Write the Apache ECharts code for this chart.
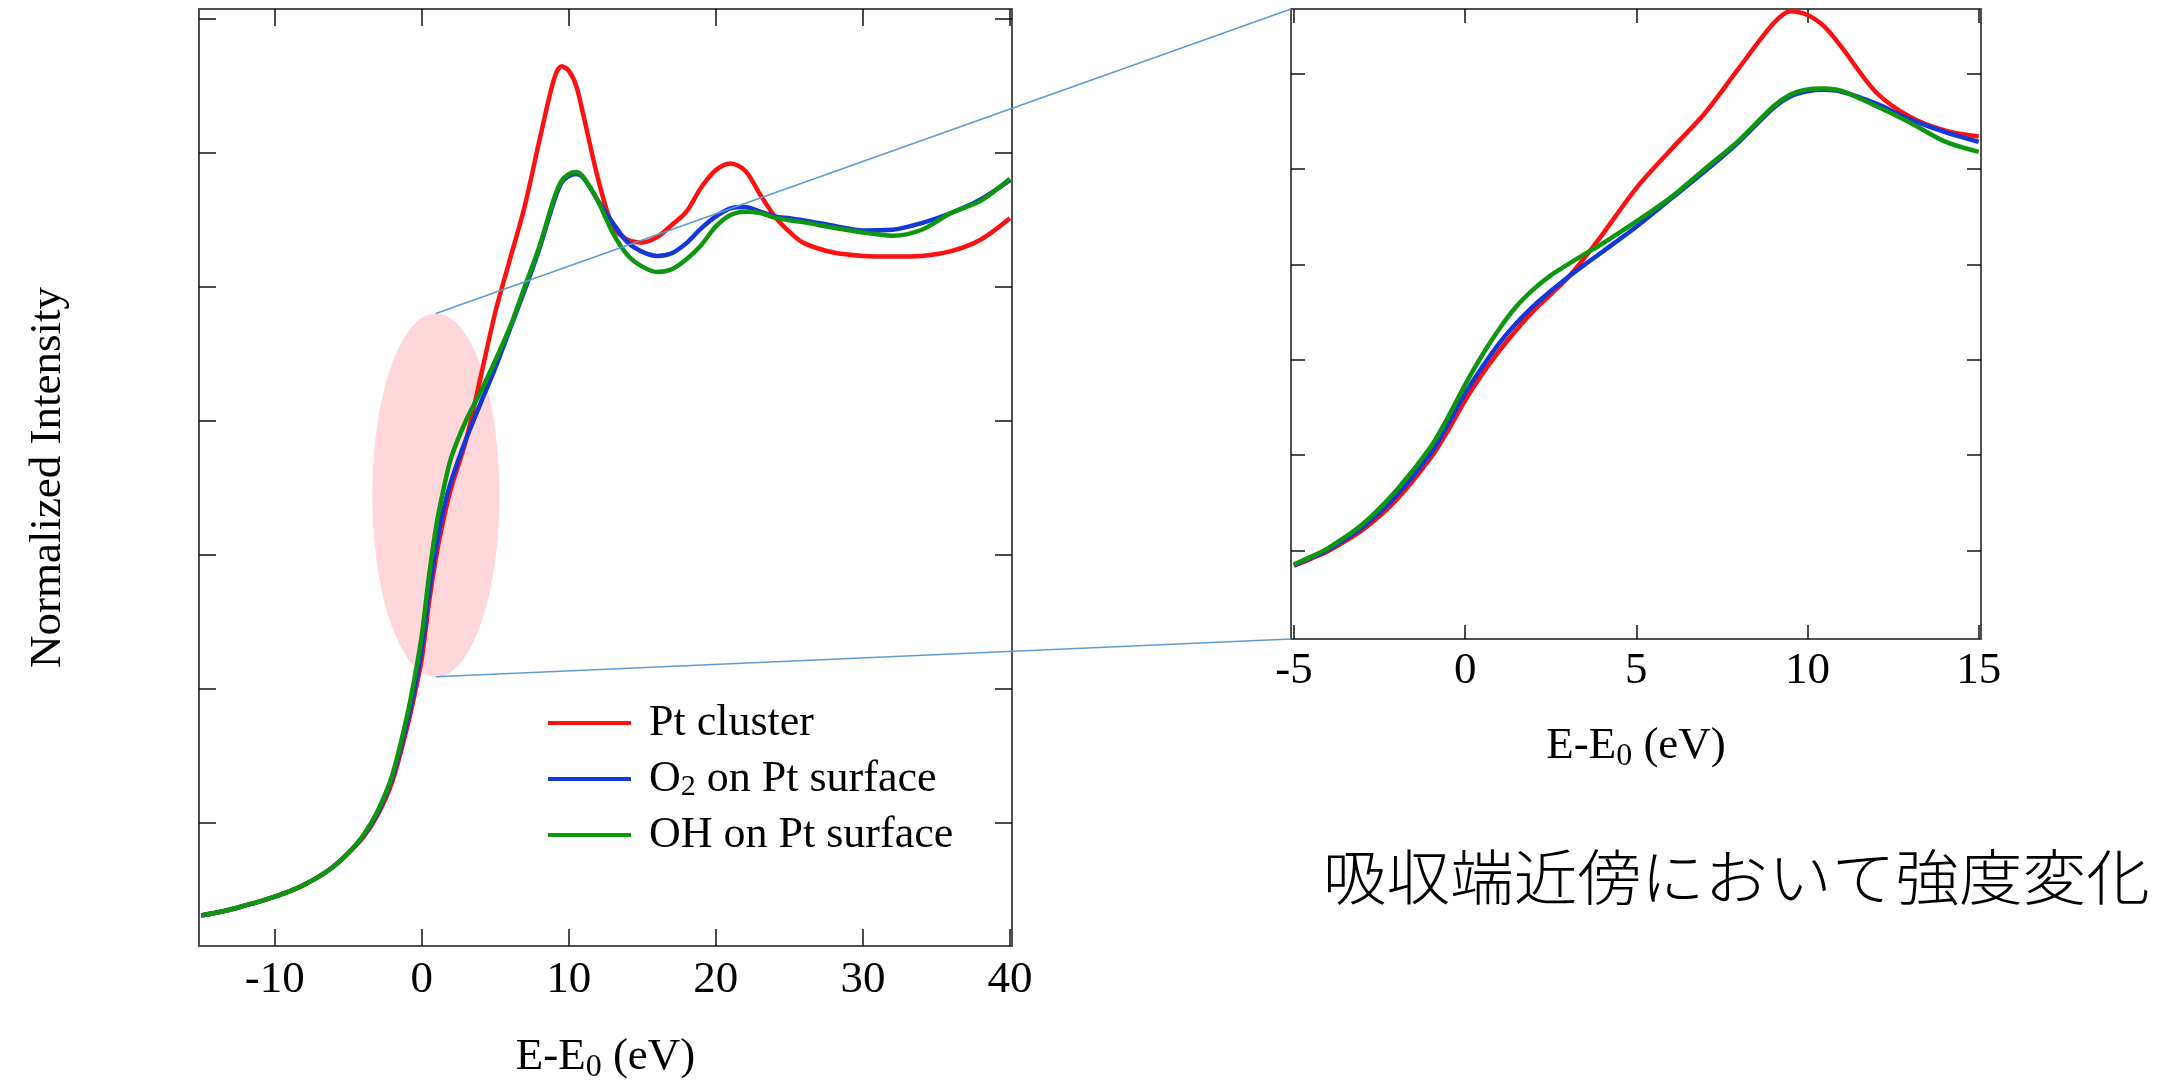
<!DOCTYPE html>
<html>
<head>
<meta charset="utf-8">
<script src="https://cdn.jsdelivr.net/npm/echarts@6/dist/echarts.min.js"></script>
<style>
  html, body { margin: 0; padding: 0; background: #ffffff; }
  #chart { width: 2161px; height: 1081px; }
</style>
</head>
<body>
<div id="chart"></div>
<script>
// ---- Full range spectra (E - E0 in eV, normalized intensity) ----
const fullEnergy    = [-15, -14, -13, -12, -11, -10, -9, -8, -7, -6, -5, -4, -3, -2, -1, -0.5, 0, 0.5, 1, 1.5, 2, 3, 4, 5, 6, 7, 8, 9, 9.5, 10, 10.5, 11, 12, 13, 14, 15, 16, 17, 18, 19, 20, 21, 22, 23, 24, 25, 26, 28, 30, 32, 34, 36, 38, 40];
const fullPtCluster = [0.062, 0.066, 0.071, 0.077, 0.083, 0.090, 0.098, 0.108, 0.120, 0.135, 0.155, 0.178, 0.212, 0.262, 0.342, 0.390, 0.445, 0.530, 0.600, 0.655, 0.700, 0.770, 0.865, 0.962, 1.041, 1.120, 1.218, 1.310, 1.329, 1.322, 1.300, 1.255, 1.160, 1.090, 1.070, 1.066, 1.074, 1.092, 1.112, 1.148, 1.174, 1.184, 1.173, 1.138, 1.105, 1.082, 1.065, 1.051, 1.046, 1.045, 1.046, 1.053, 1.070, 1.102];
const fullO2Surface = [0.062, 0.066, 0.071, 0.077, 0.083, 0.090, 0.098, 0.108, 0.120, 0.135, 0.155, 0.180, 0.215, 0.268, 0.350, 0.400, 0.460, 0.545, 0.615, 0.670, 0.710, 0.772, 0.826, 0.879, 0.937, 0.995, 1.057, 1.128, 1.155, 1.165, 1.168, 1.162, 1.128, 1.095, 1.066, 1.052, 1.046, 1.050, 1.065, 1.087, 1.105, 1.117, 1.119, 1.112, 1.105, 1.102, 1.099, 1.091, 1.084, 1.085, 1.095, 1.110, 1.130, 1.159];
const fullOHSurface = [0.062, 0.066, 0.071, 0.077, 0.083, 0.090, 0.098, 0.108, 0.120, 0.135, 0.155, 0.181, 0.218, 0.272, 0.360, 0.415, 0.480, 0.570, 0.645, 0.700, 0.745, 0.800, 0.843, 0.890, 0.940, 1.000, 1.060, 1.132, 1.158, 1.168, 1.171, 1.163, 1.127, 1.080, 1.047, 1.030, 1.022, 1.026, 1.041, 1.062, 1.090, 1.107, 1.112, 1.110, 1.103, 1.099, 1.096, 1.088, 1.081, 1.076, 1.085, 1.110, 1.128, 1.161];

// ---- Near-edge detail (E - E0 in eV, normalized intensity) ----
const edgeEnergy    = [-5, -4.5, -4, -3, -2, -1, -0.5, 0, 0.5, 1, 1.5, 2, 2.5, 3, 3.5, 4, 5, 6, 7, 8, 9, 9.5, 10, 10.5, 11, 12, 13, 14, 15];
const edgePtCluster = [0.168, 0.183, 0.199, 0.243, 0.307, 0.395, 0.452, 0.515, 0.570, 0.619, 0.663, 0.703, 0.737, 0.772, 0.815, 0.862, 0.960, 1.040, 1.117, 1.212, 1.305, 1.331, 1.323, 1.298, 1.255, 1.161, 1.109, 1.081, 1.068];
const edgeO2Surface = [0.169, 0.185, 0.202, 0.249, 0.316, 0.405, 0.465, 0.530, 0.585, 0.635, 0.677, 0.713, 0.744, 0.773, 0.800, 0.826, 0.879, 0.937, 0.995, 1.057, 1.128, 1.152, 1.163, 1.166, 1.162, 1.137, 1.104, 1.078, 1.057];
const edgeOHSurface = [0.171, 0.187, 0.205, 0.255, 0.327, 0.418, 0.480, 0.548, 0.610, 0.665, 0.712, 0.748, 0.777, 0.800, 0.822, 0.843, 0.890, 0.940, 1.000, 1.060, 1.131, 1.156, 1.167, 1.169, 1.164, 1.132, 1.097, 1.058, 1.036];

// ---- Axis ticks ----
const fullTicksX = [-10, 0, 10, 20, 30, 40];
const edgeTicksX = [-5, 0, 5, 10, 15];
const fullTicksY = [0.2, 0.4, 0.6, 0.8, 1.0, 1.2, 1.4];
const edgeTicksY = [0.2, 0.4, 0.6, 0.8, 1.0, 1.2];

const seriesNames  = ['Pt cluster', 'O2 on Pt surface', 'OH on Pt surface'];
const seriesColors = ['#ff1010', '#1438d8', '#0e960e'];

// Highlighted near-edge region on the full spectrum (data units)
const highlightRegion = { cx: 0.96, cy: 0.689, rx: 4.32, ry: 0.271 };

const caption = '吸収端近傍において強度変化';

const SERIF = '"Liberation Serif", "Times New Roman", serif';
const FONT_SIZE = 45;

function pairs(xs, ys) { return xs.map((x, i) => [x, ys[i]]); }

function frameAxes(gridIndex, range, ticks, tickLen, labelMargin, nameGap, withName) {
  const lineStyle = { color: '#505050', width: 2 };
  const tickStyle = { color: '#111111', width: 1.5 };
  const xBottom = {
    type: 'value', gridIndex, position: 'bottom',
    min: range.x[0], max: range.x[1],
    axisLine: { show: true, onZero: false, lineStyle },
    axisTick: { show: true, inside: true, length: tickLen, lineStyle: tickStyle, customValues: ticks.x },
    axisLabel: { show: true, customValues: ticks.x, margin: labelMargin, color: '#000', fontFamily: SERIF, fontSize: FONT_SIZE, lineHeight: FONT_SIZE },
    splitLine: { show: false },
    name: '{t|E-E}{s|0}{t| (eV)}',
    nameLocation: 'middle', nameGap: nameGap,
    nameTextStyle: {
      color: '#000', fontFamily: SERIF, fontSize: FONT_SIZE,
      rich: {
        t: { fontFamily: SERIF, fontSize: FONT_SIZE, color: '#000', lineHeight: 54, verticalAlign: 'middle' },
        s: { fontFamily: SERIF, fontSize: 32, color: '#000', lineHeight: 28, verticalAlign: 'bottom' }
      }
    }
  };
  const xTop = {
    type: 'value', gridIndex, position: 'top',
    min: range.x[0], max: range.x[1],
    axisLine: { show: true, onZero: false, lineStyle },
    axisTick: { show: true, inside: true, length: tickLen, lineStyle: tickStyle, customValues: ticks.x },
    axisLabel: { show: false },
    splitLine: { show: false }
  };
  const yLeft = {
    type: 'value', gridIndex, position: 'left',
    min: range.y[0], max: range.y[1],
    axisLine: { show: true, onZero: false, lineStyle },
    axisTick: { show: true, inside: true, length: tickLen, lineStyle: tickStyle, customValues: ticks.y },
    axisLabel: { show: false },
    splitLine: { show: false }
  };
  if (withName) {
    yLeft.name = 'Normalized Intensity';
    yLeft.nameLocation = 'middle';
    yLeft.nameGap = 128;
    yLeft.nameTextStyle = { color: '#000', fontFamily: SERIF, fontSize: FONT_SIZE };
  }
  const yRight = {
    type: 'value', gridIndex, position: 'right',
    min: range.y[0], max: range.y[1],
    axisLine: { show: true, onZero: false, lineStyle },
    axisTick: { show: true, inside: true, length: tickLen, lineStyle: tickStyle, customValues: ticks.y },
    axisLabel: { show: false },
    splitLine: { show: false }
  };
  return { x: [xBottom, xTop], y: [yLeft, yRight] };
}

const fullAxes = frameAxes(0, { x: [-15.15, 40.14], y: [0.0165, 1.4143] }, { x: fullTicksX, y: fullTicksY }, 17, 12, 84, true);
const edgeAxes = frameAxes(1, { x: [-5.088, 15.067], y: [0.0144, 1.3355] }, { x: edgeTicksX, y: edgeTicksY }, 14, 10, 80, false);

const fullData = [fullPtCluster, fullO2Surface, fullOHSurface];
const edgeData = [edgePtCluster, edgeO2Surface, edgeOHSurface];

const series = [];
seriesNames.forEach((name, i) => {
  series.push({
    name, type: 'line', xAxisIndex: 0, yAxisIndex: 0,
    data: pairs(fullEnergy, fullData[i]),
    smooth: 0.3, symbol: 'none', showSymbol: false, clip: true,
    lineStyle: { color: seriesColors[i], width: 4.5 }, itemStyle: { color: seriesColors[i] },
    z: 3 + i
  });
});
seriesNames.forEach((name, i) => {
  series.push({
    name, type: 'line', xAxisIndex: 2, yAxisIndex: 2,
    data: pairs(edgeEnergy, edgeData[i]),
    smooth: 0.3, symbol: 'none', showSymbol: false, clip: true,
    lineStyle: { color: seriesColors[i], width: 4.5 }, itemStyle: { color: seriesColors[i] },
    z: 3 + i
  });
});

const chart = echarts.init(document.getElementById('chart'), null, { renderer: 'canvas' });

chart.setOption({
  animation: false,
  backgroundColor: '#ffffff',
  grid: [
    { left: 199, top: 9, width: 813, height: 937, containLabel: false, outerBoundsMode: 'none' },
    { left: 1291, top: 9, width: 690, height: 630, containLabel: false, outerBoundsMode: 'none' }
  ],
  xAxis: [...fullAxes.x, ...edgeAxes.x],
  yAxis: [...fullAxes.y, ...edgeAxes.y],
  legend: {
    orient: 'vertical',
    left: 543, top: 695,
    itemWidth: 83, itemHeight: 4, itemGap: 10,
    icon: 'rect',
    data: seriesNames.map((n, i) => ({ name: n, itemStyle: { color: seriesColors[i] } })),
    formatter: (name) => name.startsWith('O2')
      ? '{t|O}{sub|2}{t|' + name.slice(2) + '}'
      : '{t|' + name + '}',
    textStyle: {
      color: '#000', fontFamily: SERIF, fontSize: 44, lineHeight: 46,
      padding: [0, 0, 0, 13],
      rich: {
        t: { fontFamily: SERIF, fontSize: 44, color: '#000', lineHeight: 46, verticalAlign: 'middle' },
        sub: { fontFamily: SERIF, fontSize: 30, color: '#000', lineHeight: 18, verticalAlign: 'bottom' }
      }
    },
    selectedMode: false
  },
  series
});

// Highlight ellipse on the full spectrum and guide lines to the detail frame
function drawOverlay() {
  const r = highlightRegion;
  const c = chart.convertToPixel({ xAxisIndex: 0, yAxisIndex: 0 }, [r.cx, r.cy]);
  const e = chart.convertToPixel({ xAxisIndex: 0, yAxisIndex: 0 }, [r.cx + r.rx, r.cy + r.ry]);
  const rxPx = Math.abs(e[0] - c[0]);
  const ryPx = Math.abs(e[1] - c[1]);
  const edgeTopLeft = chart.convertToPixel({ xAxisIndex: 2, yAxisIndex: 2 }, [-5.088, 1.3355]);
  const edgeBottomLeft = chart.convertToPixel({ xAxisIndex: 2, yAxisIndex: 2 }, [-5.088, 0.0144]);
  chart.setOption({
    graphic: [
      { type: 'ellipse', z: 1, shape: { cx: c[0], cy: c[1], rx: rxPx, ry: ryPx }, style: { fill: '#ffd6d9' }, silent: true },
      { type: 'line', z: 10, shape: { x1: c[0], y1: c[1] - ryPx, x2: edgeTopLeft[0], y2: edgeTopLeft[1] }, style: { stroke: '#5b9bd5', lineWidth: 1.5 }, silent: true },
      { type: 'line', z: 10, shape: { x1: c[0], y1: c[1] + ryPx, x2: edgeBottomLeft[0], y2: edgeBottomLeft[1] }, style: { stroke: '#5b9bd5', lineWidth: 1.5 }, silent: true },
      { type: 'text', z: 10, x: 1323, y: 877, scaleX: 1.06, style: { text: caption, fill: '#000', font: '300 60px "Noto Sans CJK JP"', textAlign: 'left', textVerticalAlign: 'middle' }, silent: true }
    ]
  });
}
drawOverlay();
</script>
</body>
</html>
